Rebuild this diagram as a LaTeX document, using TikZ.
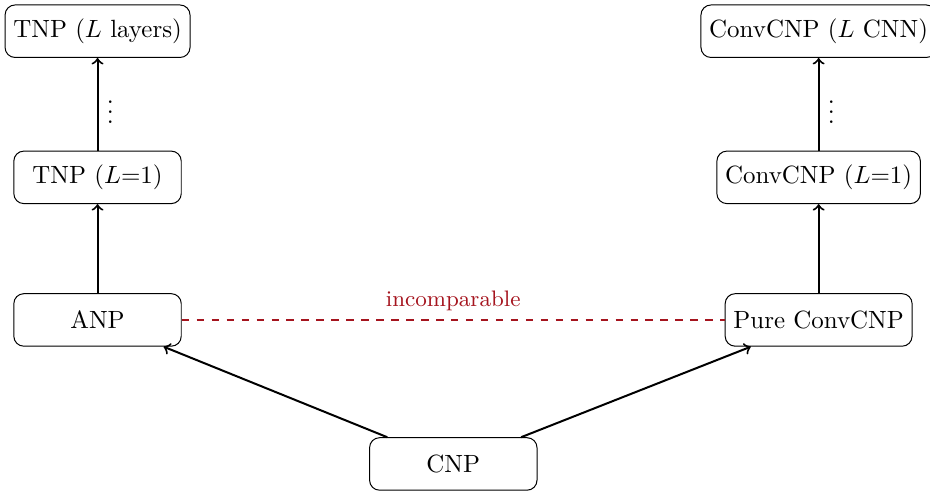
\documentclass[tikz,border=0pt]{standalone}
\usepackage{amsmath,amssymb}
\usetikzlibrary{positioning,calc}
\definecolor{CmpRed}{RGB}{165,20,30}
\tikzset{
  model/.style={draw=black,fill=white,rounded corners=4pt,inner sep=3.3pt,
    minimum width=2.36cm,minimum height=0.74cm,align=center},
  up/.style={->,thick},
  cmpedge/.style={draw=CmpRed,dashed,thick},
}

\begin{document}
\begin{tikzpicture}[font=\normalsize]
  \useasboundingbox (0,0) rectangle (13.11,-6.95);

  % Left column: attention-based models.
  \node[model] (anp) at (1.375,-4.51) {ANP};
  \node[model] (tnp1) at (1.375,-2.50) {TNP ($L$=1)};
  \node[model] (tnpL) at (1.375,-0.44) {TNP ($L$ layers)};

  % Right column: convolutional models.
  \node[model] (pure) at (11.54,-4.51) {Pure ConvCNP};
  \node[model] (conv1) at (11.54,-2.50) {ConvCNP ($L$=1)};
  \node[model] (convL) at (11.54,-0.44) {ConvCNP ($L$ CNN)};

  % Bottom: the base model.
  \node[model] (cnp) at (6.39,-6.54) {CNP};

  \draw[up] (cnp) -- (anp);
  \draw[up] (cnp) -- (pure);
  \draw[up] (anp) -- (tnp1);
  \draw[up] (tnp1) -- node[right] {$\vdots$} (tnpL);
  \draw[up] (pure) -- (conv1);
  \draw[up] (conv1) -- node[right] {$\vdots$} (convL);

  \draw[cmpedge] (anp) -- node[above,text=CmpRed,font=\small] {incomparable} (pure);
\end{tikzpicture}
\end{document}
